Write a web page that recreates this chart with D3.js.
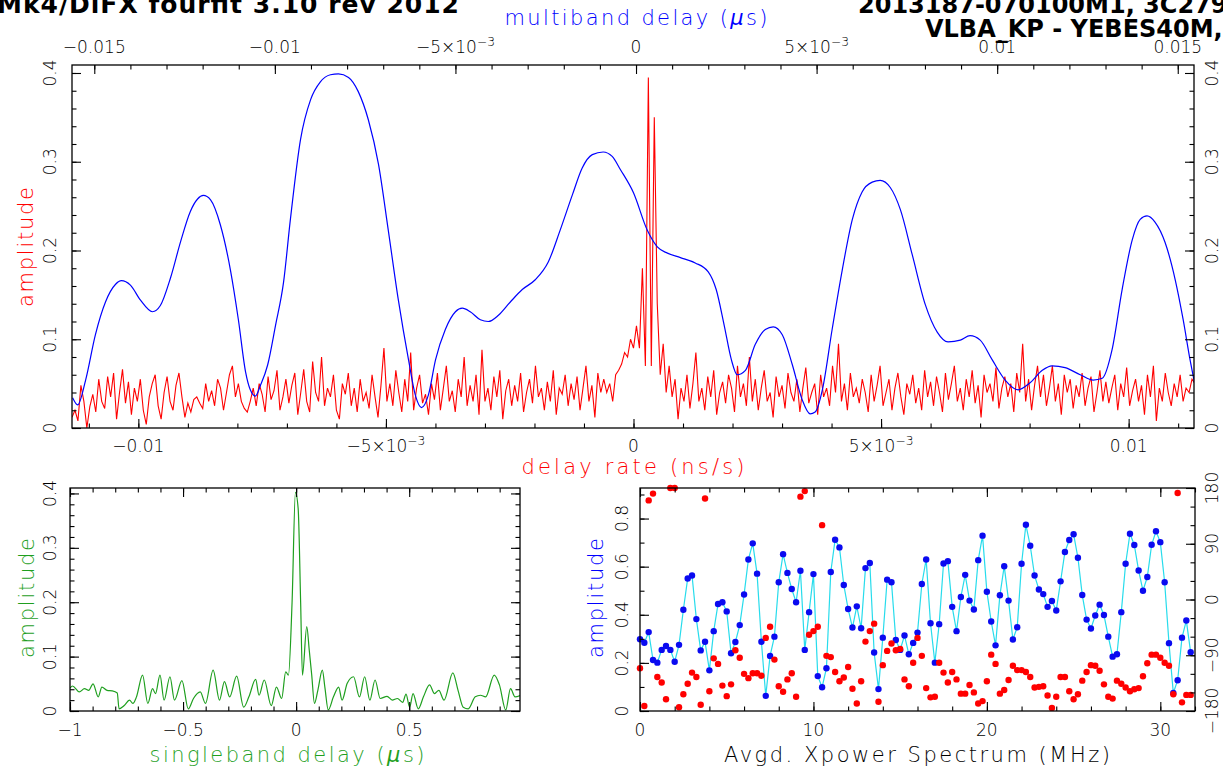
<!DOCTYPE html>
<html><head><meta charset="utf-8">
<script src="https://cdn.jsdelivr.net/npm/d3@7"></script>
<style>
body{margin:0;background:#fff}
svg{display:block}
text{font-family:"DejaVu Sans","Liberation Sans",sans-serif}
</style>
</head><body>
<svg id="c" width="1223" height="771"></svg>
<script>
// ---------------- DATA ----------------
// Multiband delay function (top axis, µs) vs amplitude
const mbdDelay = [-0.01560,-0.01546,-0.01524,-0.01497,-0.01469,-0.01441,-0.01425,-0.01400,-0.01372,-0.01339,
-0.01317,-0.01289,-0.01261,-0.01234,-0.01214,-0.01198,-0.01178,-0.01151,-0.01123,-0.01101,
-0.01081,-0.01068,-0.01054,-0.01040,-0.01020,-0.00998,-0.00976,-0.00957,-0.00929,-0.00901,
-0.00874,-0.00846,-0.00824,-0.00796,-0.00769,-0.00741,-0.00713,-0.00686,-0.00658,-0.00630,
-0.00611,-0.00594,-0.00575,-0.00555,-0.00528,-0.00500,-0.00481,-0.00459,-0.00431,-0.00409,
-0.00381,-0.00348,-0.00315,-0.00279,-0.00243,-0.00210,-0.00176,-0.00149,-0.00121,-0.00091,
-0.00066,-0.00043,-0.00007,0.00031,0.00059,0.00087,0.00123,0.00164,0.00200,0.00222,
0.00244,0.00264,0.00280,0.00303,0.00330,0.00358,0.00380,0.00405,0.00433,0.00460,
0.00482,0.00496,0.00516,0.00543,0.00571,0.00599,0.00626,0.00654,0.00676,0.00704,
0.00732,0.00765,0.00801,0.00834,0.00864,0.00898,0.00925,0.00953,0.00986,0.01022,
0.01058,0.01091,0.01125,0.01152,0.01188,0.01230,0.01266,0.01291,0.01318,0.01346,
0.01374,0.01396,0.01415,0.01437,0.01465,0.01493,0.01515,0.01534,0.01548];
const mbdAmp = [0.034,0.026,0.054,0.105,0.142,0.162,0.166,0.161,0.144,0.131,
0.138,0.169,0.210,0.244,0.258,0.262,0.257,0.229,0.178,0.122,
0.063,0.043,0.036,0.048,0.071,0.116,0.164,0.235,0.325,0.370,
0.390,0.398,0.399,0.395,0.379,0.347,0.297,0.223,0.144,0.077,
0.037,0.023,0.037,0.077,0.111,0.131,0.135,0.131,0.122,0.120,
0.127,0.142,0.156,0.167,0.187,0.223,0.263,0.293,0.308,0.311,
0.306,0.291,0.265,0.223,0.204,0.197,0.192,0.186,0.176,0.156,
0.116,0.077,0.060,0.065,0.094,0.111,0.114,0.105,0.071,0.032,
0.016,0.018,0.043,0.111,0.178,0.235,0.266,0.277,0.279,0.271,
0.246,0.195,0.139,0.108,0.097,0.099,0.104,0.099,0.077,0.054,
0.043,0.051,0.065,0.070,0.068,0.060,0.054,0.056,0.088,0.156,
0.212,0.235,0.239,0.232,0.209,0.167,0.122,0.077,0.048];

// Delay-rate function (bottom axis, ns/s): sampled from rateStart every rateStep
const rateStart = -0.01134, rateStep = 0.00006;
const rateAmp = [
0.012,0.020,0.008,0.048,0.030,0.000,0.024,0.038,0.018,0.055,
0.030,0.022,0.058,0.035,0.062,0.010,0.040,0.066,0.028,0.052,
0.015,0.045,0.030,0.055,0.020,0.004,0.035,0.050,0.060,0.025,
0.010,0.040,0.058,0.030,0.020,0.048,0.062,0.035,0.012,0.028,
0.018,0.032,0.035,0.028,0.022,0.050,0.030,0.042,0.025,0.055,
0.045,0.020,0.040,0.060,0.070,0.035,0.050,0.030,0.022,0.018,
0.030,0.045,0.025,0.050,0.038,0.018,0.058,0.032,0.042,0.065,
0.020,0.035,0.055,0.028,0.048,0.062,0.015,0.040,0.066,0.030,
0.018,0.075,0.040,0.030,0.080,0.025,0.045,0.035,0.060,0.020,
0.010,0.050,0.038,0.062,0.025,0.045,0.018,0.055,0.030,0.040,
0.022,0.060,0.035,0.012,0.048,0.090,0.030,0.050,0.025,0.065,
0.040,0.018,0.055,0.030,0.085,0.020,0.045,0.060,0.028,0.038,
0.015,0.050,0.032,0.062,0.020,0.045,0.070,0.030,0.042,0.018,
0.055,0.035,0.080,0.025,0.048,0.030,0.060,0.015,0.088,0.030,
0.045,0.020,0.058,0.035,0.065,0.010,0.042,0.055,0.025,0.048,
0.030,0.062,0.018,0.040,0.055,0.028,0.070,0.035,0.045,0.020,
0.052,0.030,0.065,0.015,0.045,0.038,0.060,0.025,0.050,0.032,
0.058,0.020,0.045,0.070,0.030,0.048,0.012,0.062,0.040,0.055,
0.040,0.050,0.030,0.060,0.065,0.072,0.085,0.080,0.100,0.090,
0.115,0.090,0.180,0.070,0.395,0.070,0.350,0.140,0.060,0.095,
0.040,0.070,0.035,0.055,0.010,0.045,0.030,0.060,0.022,0.050,
0.085,0.030,0.045,0.020,0.058,0.035,0.065,0.015,0.040,0.052,
0.028,0.060,0.045,0.018,0.070,0.035,0.050,0.025,0.080,0.030,
0.055,0.020,0.045,0.065,0.030,0.040,0.012,0.058,0.035,0.048,
0.022,0.062,0.040,0.030,0.055,0.018,0.045,0.068,0.028,0.040,
0.050,0.015,0.060,0.035,0.045,0.025,0.070,0.040,0.095,0.030,
0.050,0.020,0.062,0.035,0.045,0.028,0.055,0.040,0.018,0.060,
0.030,0.048,0.070,0.025,0.040,0.055,0.020,0.045,0.062,0.035,
0.015,0.050,0.038,0.060,0.028,0.045,0.020,0.065,0.035,0.052,
0.025,0.058,0.040,0.018,0.062,0.032,0.050,0.070,0.030,0.045,
0.020,0.055,0.035,0.065,0.028,0.048,0.012,0.060,0.040,0.050,
0.030,0.068,0.022,0.045,0.058,0.035,0.050,0.018,0.062,0.040,
0.095,0.030,0.055,0.020,0.048,0.070,0.035,0.060,0.025,0.045,
0.070,0.030,0.050,0.015,0.060,0.040,0.055,0.022,0.048,0.035,
0.062,0.025,0.045,0.058,0.018,0.040,0.065,0.030,0.052,0.028,
0.045,0.060,0.020,0.050,0.035,0.068,0.025,0.042,0.055,0.030,
0.048,0.015,0.060,0.035,0.070,0.008,0.045,0.030,0.062,0.040,
0.025,0.050,0.035,0.060,0.030,0.045,0.040,0.055,0.050];

// Singleband delay function (µs) vs amplitude
const sbdDelay = [-1.000,-0.989,-0.959,-0.936,-0.917,-0.898,-0.875,-0.859,-0.836,-0.813,-0.791,
-0.783,-0.760,-0.737,-0.722,-0.706,-0.679,-0.656,-0.635,-0.622,-0.602,
-0.584,-0.558,-0.538,-0.505,-0.477,-0.454,-0.424,-0.401,-0.367,-0.339,
-0.317,-0.294,-0.263,-0.232,-0.209,-0.179,-0.164,-0.141,-0.110,-0.087,
-0.064,-0.046,-0.034,-0.018,-0.003,0.009,0.020,0.028,0.047,0.058,
0.069,0.081,0.096,0.116,0.127,0.142,0.165,0.188,0.203,0.226,
0.254,0.280,0.303,0.326,0.349,0.372,0.402,0.425,0.448,0.471,
0.486,0.502,0.517,0.540,0.563,0.590,0.612,0.631,0.654,0.693,
0.716,0.739,0.761,0.792,0.815,0.838,0.876,0.899,0.927,0.948,
0.968,0.994];
const sbdAmp = [0.042,0.046,0.035,0.041,0.038,0.050,0.026,0.044,0.038,0.037,0.033,
0.004,0.010,0.020,0.014,0.026,0.066,0.014,0.041,0.032,0.066,
0.020,0.063,0.020,0.056,0.004,0.023,0.035,0.014,0.075,0.020,
0.054,0.026,0.064,0.007,0.026,0.058,0.029,0.057,0.010,0.044,
0.023,0.072,0.066,0.199,0.402,0.372,0.199,0.066,0.155,0.112,
0.066,0.014,0.038,0.075,0.044,0.002,0.026,0.044,0.020,0.051,
0.063,0.026,0.063,0.020,0.057,0.023,0.027,0.020,0.023,0.016,
0.031,0.007,0.032,0.004,0.026,0.048,0.032,0.038,0.020,0.070,
0.038,0.007,0.004,0.026,0.029,0.026,0.066,0.048,0.002,0.041,
0.026,0.029];

// Averaged cross-power spectrum: channels every freqStep MHz
const freqStep = 0.25;
const specAmp = [0.298,0.284,0.328,0.212,0.201,0.254,0.270,0.254,0.205,0.275,
0.421,0.551,0.563,0.382,0.252,0.288,0.169,0.332,0.445,0.452,
0.414,0.240,0.287,0.357,0.484,0.630,0.697,0.571,0.288,0.063,
0.229,0.309,0.535,0.652,0.574,0.507,0.452,0.583,0.254,0.411,
0.569,0.145,0.099,0.178,0.578,0.712,0.680,0.524,0.424,0.347,
0.435,0.344,0.594,0.615,0.243,0.091,0.305,0.546,0.535,0.295,
0.254,0.314,0.236,0.283,0.326,0.528,0.630,0.365,0.201,0.361,
0.613,0.623,0.433,0.332,0.474,0.566,0.459,0.422,0.627,0.729,
0.496,0.372,0.273,0.481,0.602,0.459,0.297,0.348,0.612,0.774,
0.687,0.563,0.505,0.486,0.433,0.457,0.418,0.539,0.661,0.711,
0.735,0.637,0.482,0.380,0.343,0.397,0.442,0.399,0.309,0.226,
0.236,0.411,0.612,0.737,0.690,0.584,0.500,0.557,0.691,0.747,
0.702,0.535,0.282,0.075,0.128,0.305,0.376,0.244];
const specPhase = [-111,-172,160,171,-125,-134,-161,180,180,-174,
-153,-136,-118,-125,-170,163,-148,-95,-104,-139,
-156,-137,-82,-94,-120,-127,-119,-119,-123,-62,
-44,-97,-140,-149,-129,-119,-157,166,175,-57,
-51,-44,120,-91,-93,-117,-132,-126,-109,-144,
-168,-132,-68,-51,-39,-165,-106,-83,-71,-82,
-80,-129,-140,-102,-62,-91,-143,-158,-157,-102,
-118,-134,-117,-129,-152,-152,-138,-150,-168,-164,
-132,-89,-104,-152,-146,-130,-107,-114,-114,-117,
-125,-142,-141,-140,-155,-175,-157,-125,-125,-148,
-161,-153,-131,-117,-106,-107,-115,-137,-157,-160,
-131,-136,-142,-148,-145,-143,-124,-103,-89,-89,
-94,-102,-107,-153,172,-166,-154,-154];

// Tick values and labels
const mbdTicks = [-0.015,-0.01,-0.005,0,0.005,0.01,0.015];
const mbdTickLabels = [["−0.015"],["−0.01"],["−5×10","−3"],["0"],["5×10","−3"],["0.01"],["0.015"]];
const rateTicks = [-0.01,-0.005,0,0.005,0.01];
const rateTickLabels = [["−0.01"],["−5×10","−3"],["0"],["5×10","−3"],["0.01"]];
const amp1Ticks = [0,0.1,0.2,0.3,0.4];
const amp1TickLabels = ["0","0.1","0.2","0.3","0.4"];
const sbdTicks = [-1,-0.5,0,0.5];
const sbdTickLabels = ["−1","−0.5","0","0.5"];
const amp2Ticks = [0,0.1,0.2,0.3,0.4];
const amp2TickLabels = ["0","0.1","0.2","0.3","0.4"];
const freqTicks = [0,10,20,30];
const freqTickLabels = ["0","10","20","30"];
const amp3Ticks = [0,0.2,0.4,0.6,0.8];
const amp3TickLabels = ["0","0.2","0.4","0.6","0.8"];
const phTicks = [-180,-90,0,90,180];
const phTickLabels = ["−180","−90","0","90","180"];

// ---------------- DRAWING ----------------
const svg = d3.select("#c");
const RED="#ff0000", BLUE="#0000ff", GREEN="#1f9f1f", CYAN="#27dcec";

const P1={l:72,r:1194,t:65,b:428};
const P2={l:70,r:520,t:488,b:711};
const P3={l:640,r:1195,t:488,b:711};

const xMbd=d3.scaleLinear().domain([-0.015617,0.01545]).range([P1.l,P1.r]);
const xRate=d3.scaleLinear().domain([-0.01134,0.01132]).range([P1.l,P1.r]);
const yAmp1=d3.scaleLinear().domain([0,0.409]).range([P1.b,P1.t]);
const xSbd=d3.scaleLinear().domain([-1,0.99]).range([P2.l,P2.r]);
const yAmp2=d3.scaleLinear().domain([0,0.41]).range([P2.b,P2.t]);
const xFreq=d3.scaleLinear().domain([0,32]).range([P3.l,P3.r]);
const yAmp3=d3.scaleLinear().domain([0,0.927]).range([P3.b,P3.t]);
const yPh=d3.scaleLinear().domain([-180,180]).range([P3.b,P3.t]);

const defs=svg.append("defs");
[["c1",P1],["c2",P2],["c3",P3]].forEach(([id,P])=>{
  defs.append("clipPath").attr("id",id).append("rect")
    .attr("x",P.l).attr("y",P.t).attr("width",P.r-P.l).attr("height",P.b-P.t);
});

function ticks(axisGen, scale, vals, size, tx, ty){
  const g=svg.append("g").attr("transform",`translate(${tx},${ty})`)
    .call(axisGen(scale).tickValues(vals).tickSize(size).tickSizeOuter(0).tickFormat(""));
  g.select(".domain").remove();
  g.selectAll("text").remove();
  g.selectAll(".tick line").attr("stroke","#000").attr("stroke-width",1.1);
}
function label(x,y,parts,o={}){
  const fs=o.size||17;
  const t=svg.append("text").attr("x",x).attr("y",y)
    .attr("text-anchor",o.anchor||"middle").attr("font-size",fs)
    .attr("fill",o.color||"#000").attr("font-weight",o.weight||200);
  if(o.rotate) t.attr("transform",`rotate(-90,${x},${y})`);
  if(o.central) t.attr("dominant-baseline","central");
  if(o.len) t.attr("textLength",o.len).attr("lengthAdjust","spacing");
  if(typeof parts==="string") parts=[parts];
  t.append("tspan").text(parts[0]);
  if(parts[1]) t.append("tspan").attr("font-size",fs*0.72).attr("dy",-7).text(parts[1]);
  return t;
}
function muLabel(x,y,pre,post,o){
  const t=svg.append("text").attr("x",x).attr("y",y).attr("text-anchor","middle")
    .attr("font-size",o.size||21).attr("fill",o.color).attr("font-weight",200);
  if(o.len) t.attr("textLength",o.len).attr("lengthAdjust","spacing");
  t.append("tspan").text(pre);
  t.append("tspan").attr("font-style","italic").text("µ");
  t.append("tspan").text(post);
}
function frame(P){
  svg.append("rect").attr("x",P.l).attr("y",P.t).attr("width",P.r-P.l).attr("height",P.b-P.t)
    .attr("fill","none").attr("stroke","#000").attr("stroke-width",1.3);
}

// ---- Titles (clipped at top/right of page, as in the reference) ----
svg.append("text").attr("x",-3).attr("y",13).attr("font-family","Liberation Sans, Arial, sans-serif")
  .attr("font-weight","bold").attr("font-size",25).attr("fill","#000")
  .attr("textLength",462).attr("lengthAdjust","spacing")
  .text("Mk4/DiFX fourfit 3.10 rev 2012");
svg.append("text").attr("x",858).attr("y",13).attr("font-family","Liberation Sans, Arial, sans-serif")
  .attr("font-weight","bold").attr("font-size",24).attr("fill","#000")
  .text("2013187-070100M1, 3C279");
svg.append("text").attr("x",925).attr("y",37).attr("font-family","Liberation Sans, Arial, sans-serif")
  .attr("font-weight","bold").attr("font-size",24).attr("fill","#000")
  .text("VLBA_KP - YEBES40M, X");

// ---- Panel 1 ----
const g1=svg.append("g").attr("clip-path","url(#c1)");
g1.append("path").datum(rateAmp)
  .attr("d",d3.line().x((d,i)=>xRate(rateStart+i*rateStep)).y(d=>yAmp1(d)))
  .attr("fill","none").attr("stroke",RED).attr("stroke-width",1.1);
g1.append("path").datum(mbdDelay.map((d,i)=>[d,mbdAmp[i]]))
  .attr("d",d3.line().x(d=>xMbd(d[0])).y(d=>yAmp1(d[1])).curve(d3.curveMonotoneX))
  .attr("fill","none").attr("stroke",BLUE).attr("stroke-width",1.2);
frame(P1);
const minorA1=d3.range(0,21).map(i=>i*0.02);
ticks(d3.axisLeft,yAmp1,amp1Ticks,-9,P1.l,0);
ticks(d3.axisLeft,yAmp1,minorA1,-4.5,P1.l,0);
ticks(d3.axisRight,yAmp1,amp1Ticks,-9,P1.r,0);
ticks(d3.axisRight,yAmp1,minorA1,-4.5,P1.r,0);
ticks(d3.axisTop,xMbd,mbdTicks,-9,0,P1.t);
ticks(d3.axisTop,xMbd,d3.range(-15,16).map(i=>i*0.001),-4.5,0,P1.t);
ticks(d3.axisBottom,xRate,rateTicks,-9,0,P1.b);
ticks(d3.axisBottom,xRate,d3.range(-11,12).map(i=>i*0.001),-4.5,0,P1.b);
mbdTicks.forEach((v,i)=>label(xMbd(v),53,mbdTickLabels[i]));
rateTicks.forEach((v,i)=>label(xRate(v),452,rateTickLabels[i]));
amp1Ticks.forEach((v,i)=>{
  label(50,yAmp1(v),amp1TickLabels[i],{rotate:true,central:true});
  label(1212,yAmp1(v),amp1TickLabels[i],{rotate:true,central:true});
});
muLabel(636,25,"multiband delay (","s)",{color:BLUE,len:263});
label(633,474,"delay rate (ns/s)",{color:RED,size:21,len:223});
label(26,247,"amplitude",{color:RED,size:21,rotate:true,central:true,len:120});

// ---- Panel 2 ----
const g2=svg.append("g").attr("clip-path","url(#c2)");
g2.append("path").datum(sbdDelay.map((d,i)=>[d,sbdAmp[i]]))
  .attr("d",d3.line().x(d=>xSbd(d[0])).y(d=>yAmp2(d[1])).curve(d3.curveMonotoneX))
  .attr("fill","none").attr("stroke",GREEN).attr("stroke-width",1.2);
frame(P2);
const minorA2=d3.range(0,21).map(i=>i*0.02);
const minorS=d3.range(-10,10).map(i=>i*0.1);
ticks(d3.axisLeft,yAmp2,amp2Ticks,-9,P2.l,0);
ticks(d3.axisLeft,yAmp2,minorA2,-4.5,P2.l,0);
ticks(d3.axisRight,yAmp2,amp2Ticks,-9,P2.r,0);
ticks(d3.axisRight,yAmp2,minorA2,-4.5,P2.r,0);
ticks(d3.axisBottom,xSbd,sbdTicks,-9,0,P2.b);
ticks(d3.axisBottom,xSbd,minorS,-4.5,0,P2.b);
ticks(d3.axisTop,xSbd,sbdTicks,-9,0,P2.t);
ticks(d3.axisTop,xSbd,minorS,-4.5,0,P2.t);
sbdTicks.forEach((v,i)=>label(xSbd(v),736,sbdTickLabels[i]));
amp2Ticks.forEach((v,i)=>label(50,yAmp2(v),amp2TickLabels[i],{rotate:true,central:true}));
muLabel(287,762,"singleband delay (","s)",{color:GREEN,len:275});
label(27,598,"amplitude",{color:GREEN,size:21,rotate:true,central:true,len:120});

// ---- Panel 3 ----
const g3=svg.append("g").attr("clip-path","url(#c3)");
g3.append("path").datum(specAmp)
  .attr("d",d3.line().x((d,i)=>xFreq(i*freqStep)).y(d=>yAmp3(d)))
  .attr("fill","none").attr("stroke",CYAN).attr("stroke-width",1.2);
svg.append("g").selectAll("circle").data(specAmp).join("circle")
  .attr("cx",(d,i)=>xFreq(i*freqStep)).attr("cy",d=>yAmp3(d)).attr("r",3.2).attr("fill","#0a0af0");
svg.append("g").selectAll("circle").data(specPhase).join("circle")
  .attr("cx",(d,i)=>xFreq(i*freqStep)).attr("cy",d=>yPh(d)).attr("r",3.2).attr("fill",RED);
frame(P3);
ticks(d3.axisLeft,yAmp3,amp3Ticks,-9,P3.l,0);
ticks(d3.axisLeft,yAmp3,d3.range(0,10).map(i=>i*0.1),-4.5,P3.l,0);
ticks(d3.axisRight,yPh,phTicks,-9,P3.r,0);
ticks(d3.axisRight,yPh,d3.range(-6,7).map(i=>i*30),-4.5,P3.r,0);
ticks(d3.axisBottom,xFreq,freqTicks,-9,0,P3.b);
ticks(d3.axisBottom,xFreq,d3.range(0,17).map(i=>i*2),-4.5,0,P3.b);
ticks(d3.axisTop,xFreq,freqTicks,-9,0,P3.t);
ticks(d3.axisTop,xFreq,d3.range(0,17).map(i=>i*2),-4.5,0,P3.t);
freqTicks.forEach((v,i)=>label(xFreq(v),736,freqTickLabels[i]));
amp3Ticks.forEach((v,i)=>label(622,yAmp3(v),amp3TickLabels[i],{rotate:true,central:true}));
phTicks.forEach((v,i)=>label(1212,yPh(v),phTickLabels[i],{rotate:true,central:true}));
label(917,762,"Avgd. Xpower Spectrum (MHz)",{size:21,len:386});
label(596,598,"amplitude",{color:BLUE,size:21,rotate:true,central:true,len:120});
</script>
</body></html>
